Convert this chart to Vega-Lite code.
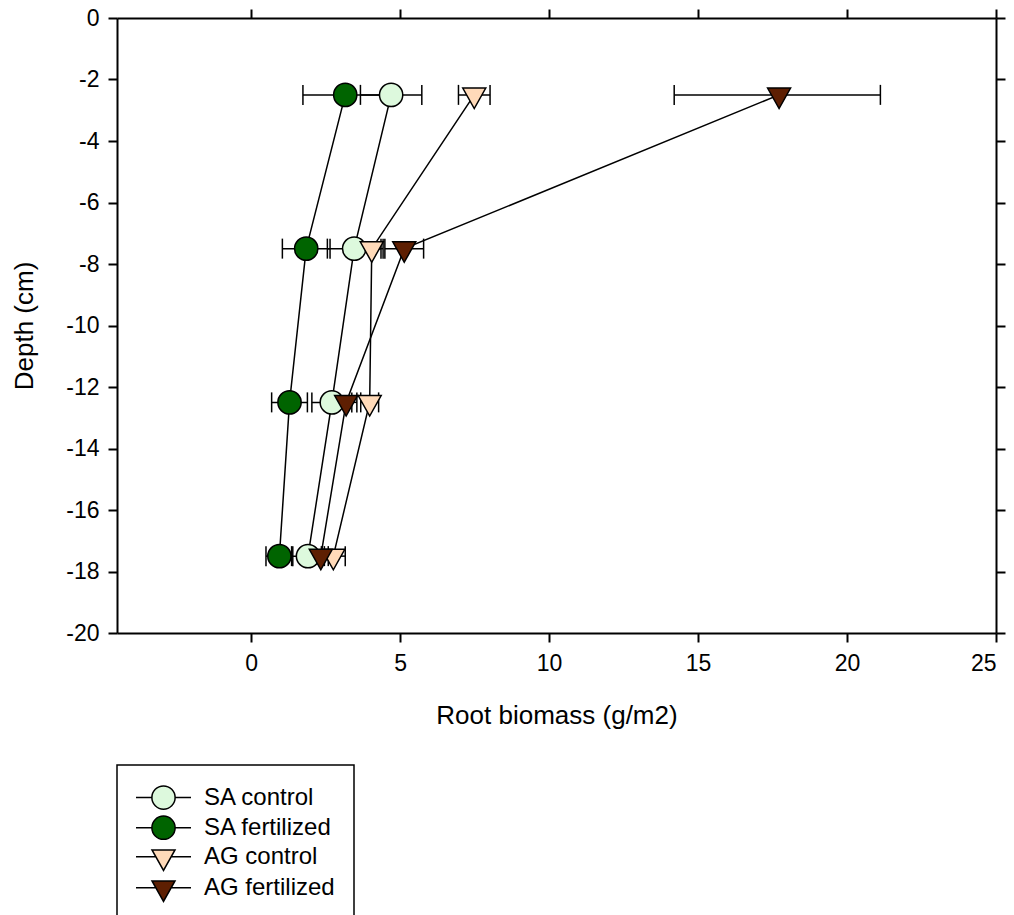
{
  "$schema": "https://vega.github.io/schema/vega-lite/v6.json",
  "width": 879,
  "height": 615,
  "autosize": {"type": "none"},
  "padding": {"left": 117, "top": 18, "right": 18, "bottom": 282},
  "background": "white",
  "config": {
    "view": {"stroke": null},
    "font": "Liberation Sans",
    "axis": {
      "grid": false,
      "domainColor": "black",
      "domainWidth": 2,
      "tickColor": "black",
      "tickWidth": 2,
      "tickSize": 9,
      "labelColor": "black",
      "labelFont": "Liberation Sans",
      "labelFontSize": 23,
      "titleFont": "Liberation Sans",
      "titleFontSize": 26,
      "titleFontWeight": "normal",
      "titleColor": "black"
    }
  },
  "data": {
    "values": [
      {"series": "SA control", "depth": -2.5, "value": 4.70, "lo": 3.67, "hi": 5.73},
      {"series": "SA control", "depth": -7.5, "value": 3.46, "lo": 2.56, "hi": 4.36},
      {"series": "SA control", "depth": -12.5, "value": 2.71, "lo": 2.04, "hi": 3.38},
      {"series": "SA control", "depth": -17.5, "value": 1.91, "lo": 1.36, "hi": 2.46},
      {"series": "SA fertilized", "depth": -2.5, "value": 3.16, "lo": 1.74, "hi": 4.58},
      {"series": "SA fertilized", "depth": -7.5, "value": 1.85, "lo": 1.05, "hi": 2.65},
      {"series": "SA fertilized", "depth": -12.5, "value": 1.29, "lo": 0.69, "hi": 1.89},
      {"series": "SA fertilized", "depth": -17.5, "value": 0.95, "lo": 0.50, "hi": 1.40},
      {"series": "AG control", "depth": -2.5, "value": 7.49, "lo": 6.96, "hi": 8.02},
      {"series": "AG control", "depth": -7.5, "value": 4.05, "lo": 3.67, "hi": 4.43},
      {"series": "AG control", "depth": -12.5, "value": 3.98, "lo": 3.68, "hi": 4.28},
      {"series": "AG control", "depth": -17.5, "value": 2.76, "lo": 2.36, "hi": 3.16},
      {"series": "AG fertilized", "depth": -2.5, "value": 17.72, "lo": 14.2, "hi": 21.12},
      {"series": "AG fertilized", "depth": -7.5, "value": 5.14, "lo": 4.49, "hi": 5.79},
      {"series": "AG fertilized", "depth": -12.5, "value": 3.19, "lo": 2.83, "hi": 3.55},
      {"series": "AG fertilized", "depth": -17.5, "value": 2.34, "lo": 2.09, "hi": 2.59}
    ]
  },
  "resolve": {
    "axis": {"x": "independent", "y": "independent"},
    "scale": {"color": "independent", "shape": "independent"}
  },
  "layer": [
    {
      "mark": {"type": "line", "color": "black", "strokeWidth": 1.5},
      "encoding": {
        "x": {
          "field": "value", "type": "quantitative",
          "scale": {"domain": [-4.5, 25], "nice": false, "zero": false},
          "axis": {"orient": "bottom", "values": [0, 5, 10, 15, 20, 25], "title": "Root biomass (g/m2)", "labelPadding": 10, "titlePadding": 27}
        },
        "y": {
          "field": "depth", "type": "quantitative",
          "scale": {"domain": [-20, 0], "nice": false, "zero": false},
          "axis": {"orient": "left", "values": [-20, -18, -16, -14, -12, -10, -8, -6, -4, -2, 0], "title": "Depth (cm)", "labelPadding": 9, "titlePadding": 28, "labelExpr": "replace(datum.label, '\u2212', '-')"}
        },
        "detail": {"field": "series"},
        "order": {"field": "depth"}
      }
    },
    {
      "mark": {"type": "rule", "color": "black", "strokeWidth": 1.5},
      "encoding": {
        "x": {"field": "lo", "type": "quantitative", "axis": null},
        "x2": {"field": "hi"},
        "y": {"field": "depth", "type": "quantitative", "axis": null}
      }
    },
    {
      "mark": {"type": "tick", "orient": "vertical", "color": "black", "thickness": 1.5, "size": 20, "opacity": 1},
      "encoding": {
        "x": {"field": "lo", "type": "quantitative", "axis": null},
        "y": {"field": "depth", "type": "quantitative", "axis": null}
      }
    },
    {
      "mark": {"type": "tick", "orient": "vertical", "color": "black", "thickness": 1.5, "size": 20, "opacity": 1},
      "encoding": {
        "x": {"field": "hi", "type": "quantitative", "axis": null},
        "y": {"field": "depth", "type": "quantitative", "axis": null}
      }
    },
    {
      "mark": {"type": "point", "filled": true, "opacity": 1, "stroke": "black", "strokeWidth": 1.5, "size": 625},
      "encoding": {
        "x": {
          "field": "value", "type": "quantitative",
          "axis": {"orient": "top", "values": [0, 5, 10, 15, 20, 25], "labels": false, "title": null}
        },
        "y": {
          "field": "depth", "type": "quantitative",
          "axis": {"orient": "right", "values": [-20, -18, -16, -14, -12, -10, -8, -6, -4, -2, 0], "labels": false, "title": null}
        },
        "color": {
          "field": "series", "type": "nominal",
          "scale": {
            "domain": ["SA control", "SA fertilized", "AG control", "AG fertilized"],
            "range": ["#DDF9DD", "#006400", "#FFDAB9", "#5E1F02"]
          },
          "legend": null
        },
        "shape": {
          "field": "series", "type": "nominal",
          "scale": {
            "domain": ["SA control", "SA fertilized", "AG control", "AG fertilized"],
            "range": [
              "M-0.93,0A0.93,0.93 0 1,0 0.93,0A0.93,0.93 0 1,0 -0.93,0Z",
              "M-0.93,0A0.93,0.93 0 1,0 0.93,0A0.93,0.93 0 1,0 -0.93,0Z",
              "M-0.92,-0.545L0.92,-0.545L0,1.095Z",
              "M-0.92,-0.545L0.92,-0.545L0,1.095Z"
            ]
          },
          "legend": null
        }
      }
    },
    {
      "transform": [{"filter": "false"}],
      "mark": {"type": "point", "filled": true, "opacity": 1, "stroke": "black", "strokeWidth": 1.5, "size": 625},
      "encoding": {
        "x": {"field": "value", "type": "quantitative", "axis": null},
        "y": {"field": "depth", "type": "quantitative", "axis": null},
        "color": {
          "field": "series", "type": "nominal",
          "scale": {
            "domain": ["SA control", "SA fertilized", "AG control", "AG fertilized"],
            "range": ["#DDF9DD", "#006400", "#FFDAB9", "#5E1F02"]
          },
          "legend": {
            "title": null, "orient": "none", "legendX": 0, "legendY": 747,
            "padding": 19, "strokeColor": "black", "fillColor": "white",
            "symbolSize": 625, "symbolStrokeColor": "black", "symbolStrokeWidth": 1.5,
            "symbolOffset": 14, "labelOffset": 27, "labelFontSize": 24, "labelFont": "Liberation Sans",
            "labelColor": "black", "rowPadding": -0.8, "symbolOpacity": 1,
            "labelExpr": "datum.label + '\u00a0'",
            "encode": {"legend": {"update": {"strokeWidth": {"value": 1.5}}}}
          }
        },
        "shape": {
          "field": "series", "type": "nominal",
          "scale": {
            "domain": ["SA control", "SA fertilized", "AG control", "AG fertilized"],
            "range": [
              "M-2.2,0L-0.93,0M0.93,0L2.2,0M-0.93,0A0.93,0.93 0 1,0 0.93,0A0.93,0.93 0 1,0 -0.93,0Z",
              "M-2.2,0L-0.93,0M0.93,0L2.2,0M-0.93,0A0.93,0.93 0 1,0 0.93,0A0.93,0.93 0 1,0 -0.93,0Z",
              "M-2.2,0L-0.61,0M0.61,0L2.2,0M-0.92,-0.545L0.92,-0.545L0,1.095Z",
              "M-2.2,0L-0.61,0M0.61,0L2.2,0M-0.92,-0.545L0.92,-0.545L0,1.095Z"
            ]
          },
          "legend": {
            "title": null, "orient": "none", "legendX": 0, "legendY": 747,
            "padding": 19, "strokeColor": "black", "fillColor": "white",
            "symbolSize": 625, "symbolStrokeColor": "black", "symbolStrokeWidth": 1.5,
            "symbolOffset": 14, "labelOffset": 27, "labelFontSize": 24, "labelFont": "Liberation Sans",
            "labelColor": "black", "rowPadding": -0.8, "symbolOpacity": 1,
            "labelExpr": "datum.label + '\u00a0'",
            "encode": {"legend": {"update": {"strokeWidth": {"value": 1.5}}}}
          }
        }
      }
    }
  ]
}
